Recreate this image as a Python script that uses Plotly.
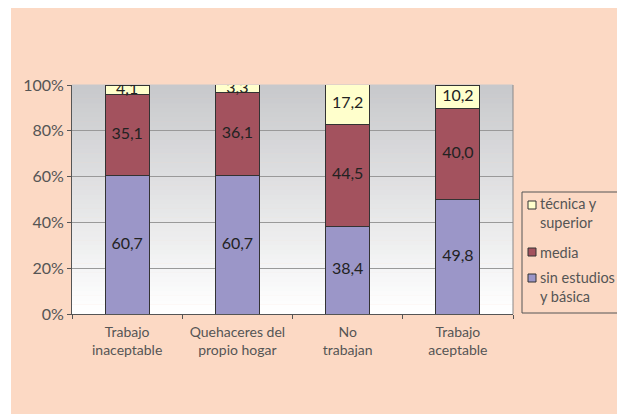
import plotly.graph_objects as go

categories = ["Trabajo<br>inaceptable", "Quehaceres del<br>propio hogar", "No<br>trabajan", "Trabajo<br>aceptable"]
sin_estudios = [60.7, 60.7, 38.4, 49.8]
media = [35.1, 36.1, 44.5, 40.0]
tecnica = [4.1, 3.3, 17.2, 10.2]
series_names = ["sin estudios<br>y básica", "media", "técnica y<br>superior"]
y_ticks = [0, 20, 40, 60, 80, 100]
y_ticktext = ["0%", "20%", "40%", "60%", "80%", "100%"]
colors = ["#9B96C8", "#A3525E", "#FFFFCC"]

FONT = "Lato"
PEACH = "#FCD9C4"
W, H = 625, 414
L, T, PW, PH = 64, 77, 441, 229


def px_x(fx):
    return (fx - L) / PW


def px_y(fy):
    return (T + PH - fy) / PH


fig = go.Figure()
series = [sin_estudios, media, tecnica]
for name, vals, col in zip(series_names, series, colors):
    fig.add_trace(go.Bar(x=categories, y=vals, name=name,
                         marker=dict(color=col, line=dict(color="#333333", width=1)),
                         width=0.4, hoverinfo="skip", showlegend=False))

# labels at segment centres
base = [0] * len(categories)
for vals in series:
    centers = [b + v / 2 for b, v in zip(base, vals)]
    fig.add_trace(go.Scatter(x=categories, y=centers, mode="text",
                             text=[f"{v:.1f}".replace(".", ",") for v in vals],
                             textfont=dict(family=FONT, size=16, color="#222222"),
                             showlegend=False, hoverinfo="skip"))
    base = [b + v for b, v in zip(base, vals)]

# peach page background
fig.add_shape(type="rect", xref="paper", yref="paper",
              x0=px_x(3), x1=px_x(W + 10), y0=px_y(H + 10), y1=px_y(-10),
              line=dict(width=0), fillcolor=PEACH, layer="below")

# gradient plot background
n = 50
c0 = (199, 200, 203)
c1 = (255, 255, 255)
for i in range(n):
    frac = i / n
    r, g, b = [int(round(a + (bb - a) * (1 - frac))) for a, bb in zip(c0, c1)]
    fig.add_shape(type="rect", xref="x domain", yref="y domain", x0=0, x1=1,
                  y0=frac, y1=frac + 1 / n + 0.002, line=dict(width=0),
                  fillcolor=f"rgb({r},{g},{b})", layer="below")

# right border of plot area
fig.add_shape(type="line", xref="x domain", yref="y domain", x0=1, x1=1, y0=0, y1=1,
              line=dict(color="#888888", width=1))

# custom legend (reversed order, box running past right edge)
fig.add_shape(type="rect", xref="paper", yref="paper",
              x0=px_x(514), x1=px_x(W + 20), y0=px_y(305), y1=px_y(184),
              line=dict(color="#555555", width=1), fillcolor=PEACH)
legend_rows = [(2, 197, 205.5), (1, 244, 244), (0, 270, 279)]
for idx, sq_y, txt_y in legend_rows:
    fig.add_shape(type="rect", xref="paper", yref="paper",
                  x0=px_x(520), x1=px_x(528), y0=px_y(sq_y + 4), y1=px_y(sq_y - 4),
                  line=dict(color="#333333", width=1), fillcolor=colors[idx])
    fig.add_annotation(xref="paper", yref="paper", x=px_x(530), y=px_y(txt_y),
                       text=series_names[idx], showarrow=False, xanchor="left", yanchor="middle",
                       align="left", font=dict(family=FONT, size=14.5, color="#555555"))

fig.update_layout(
    width=W, height=H,
    paper_bgcolor="white", plot_bgcolor="rgba(0,0,0,0)",
    barmode="stack",
    margin=dict(l=L, r=W - L - PW, t=T, b=H - T - PH),
    font=dict(family=FONT, color="#555555"),
    showlegend=False,
    xaxis=dict(type="category", tickson="boundaries", ticks="outside", ticklen=4, tickcolor="#555555",
               tickangle=0, showline=True, linecolor="#555555", ticklabelstandoff=5,
               tickfont=dict(family=FONT, size=14, color="#555555")),
    yaxis=dict(range=[0, 100], tickmode="array", tickvals=y_ticks, ticktext=y_ticktext,
               showgrid=True, gridcolor="#999999", gridwidth=1,
               showline=True, linecolor="#555555", ticks="outside", ticklen=4, tickcolor="#555555",
               tickfont=dict(family=FONT, size=16, color="#555555")),
)

fig.write_html("out.html")
